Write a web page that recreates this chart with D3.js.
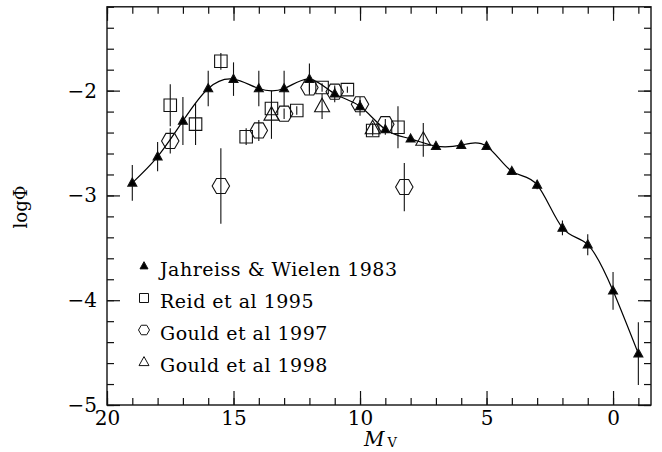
<!DOCTYPE html>
<html>
<head>
<meta charset="utf-8">
<script src="https://cdn.jsdelivr.net/npm/d3@7"></script>
<style>
  html, body { margin: 0; padding: 0; background: #fff; }
  svg { display: block; }
  text { font-family: "DejaVu Serif", "Liberation Serif", serif; fill: #000; }
</style>
</head>
<body>
<svg id="chart" width="662" height="452"></svg>
<script>
// Jahreiss & Wielen 1983 (filled triangles, with smooth curve)
const jwMv  = [19, 18, 17, 16, 15, 14, 13, 12, 11, 10, 9, 8, 7, 6, 5, 4, 3, 2, 1, 0, -1];
const jwLog = [-2.88, -2.63, -2.29, -1.98, -1.89, -1.98, -1.98, -1.89, -2.03, -2.15, -2.37, -2.46, -2.53, -2.52, -2.53, -2.77, -2.90, -3.31, -3.47, -3.91, -4.51];
const jwErr = [0.17, 0.14, 0.23, 0.17, 0.16, 0.17, 0.17, 0.15, 0.08, 0.09, 0.05, 0.03, 0.02, 0.02, 0.02, 0.03, 0.04, 0.07, 0.10, 0.18, 0.30];

// Reid et al 1995 (open squares)
const reidMv  = [17.5, 16.5, 15.5, 14.5, 13.5, 12.5, 11.5, 10.5, 9.5, 8.5];
const reidLog = [-2.14, -2.32, -1.72, -2.44, -2.17, -2.19, -1.97, -1.99, -2.38, -2.35];
const reidErr = [0.20, 0.20, 0.08, 0.08, 0.06, 0.04, 0.04, 0.03, 0.05, 0.20];

// Gould et al 1997 (open hexagons)
const g97Mv  = [17.5, 15.5, 14, 13, 12, 11, 10, 9, 8.25];
const g97Log = [-2.48, -2.91, -2.38, -2.22, -1.97, -2.01, -2.13, -2.32, -2.92];
const g97Err = [0.12, 0.36, 0.10, 0.05, 0.04, 0.04, 0.04, 0.05, 0.23];

// Gould et al 1998 (open triangles)
const g98Mv  = [13.5, 11.5, 9.5, 7.5];
const g98Log = [-2.23, -2.15, -2.36, -2.47];
const g98Err = [0.23, 0.12, 0.05, 0.16];

const xMajorTicks = [20, 15, 10, 5, 0];
const yMajorTicks = [-5, -4, -3, -2];
const legendLabels = ["Jahreiss & Wielen 1983", "Reid et al 1995", "Gould et al 1997", "Gould et al 1998"];

const svg = d3.select("#chart");
const L = 107, R = 651, T = 6.8, B = 405;
const x = d3.scaleLinear().domain([20, -1.5]).range([L, R]);
const y = d3.scaleLinear().domain([-5, -1.2]).range([B, T]);

const xMinor = d3.range(20, -2, -1);
const yMinor = d3.range(-5, -1.19, 0.2).map(v => +v.toFixed(1));

function axis(gen, tx, ty, values, size, labels, pad) {
  const g = svg.append("g").attr("transform", `translate(${tx},${ty})`)
    .call(gen.tickValues(values).tickSize(size).tickPadding(pad).tickFormat(labels ? d3.format("d") : () => ""));
  g.select(".domain").remove();
  g.selectAll(".tick line").attr("stroke", "#111").attr("stroke-width", 1.2);
  g.selectAll(".tick text").style("font-size", "20px").attr("fill", "#000").attr("font-family", null);
  return g;
}
// bottom
axis(d3.axisBottom(x), 0, B, xMinor, -7, false, 0);
axis(d3.axisBottom(x), 0, B, xMajorTicks, -14, true, 6);
// top
axis(d3.axisTop(x), 0, T, xMinor, -7, false, 0);
axis(d3.axisTop(x), 0, T, xMajorTicks, -14, false, 0);
// left
axis(d3.axisLeft(y), L, 0, yMinor, -7, false, 0);
axis(d3.axisLeft(y), L, 0, yMajorTicks, -13, true, 10);
// right
axis(d3.axisRight(y), R, 0, yMinor, -7, false, 0);
axis(d3.axisRight(y), R, 0, yMajorTicks, -13, false, 0);

svg.append("rect").attr("x", L).attr("y", T).attr("width", R - L).attr("height", B - T)
  .attr("fill", "none").attr("stroke", "#111").attr("stroke-width", 1.4);

const plot = svg.append("g");

function errBars(mv, lg, er) {
  plot.append("g").selectAll("line").data(mv).join("line")
    .attr("x1", (d) => x(d)).attr("x2", (d) => x(d))
    .attr("y1", (d, i) => y(lg[i] + er[i])).attr("y2", (d, i) => y(lg[i] - er[i]))
    .attr("stroke", "#111").attr("stroke-width", 1.1);
}
errBars(jwMv, jwLog, jwErr);
errBars(reidMv, reidLog, reidErr);
errBars(g97Mv, g97Log, g97Err);
errBars(g98Mv, g98Log, g98Err);

// smooth curve through JW points
const line = d3.line().x((d) => x(d[0])).y((d) => y(d[1])).curve(d3.curveNatural);
plot.append("path").datum(jwMv.map((m, i) => [m, jwLog[i]]))
  .attr("d", line).attr("fill", "none").attr("stroke", "#000").attr("stroke-width", 1.2);

function triPath(s) { // equilateral-ish, centered
  const h = s * 0.9;
  return `M0,${-h * 0.6}L${s / 2},${h * 0.4}L${-s / 2},${h * 0.4}Z`;
}
function hexPath(r) {
  const pts = d3.range(6).map(k => [r * Math.cos(k * Math.PI / 3), r * Math.sin(k * Math.PI / 3)]);
  return "M" + pts.map(p => p.join(",")).join("L") + "Z";
}
function sqPath(s) { return `M${-s/2},${-s/2}h${s}v${s}h${-s}Z`; }

function markers(mv, lg, d, fill) {
  plot.append("g").selectAll("path").data(mv).join("path")
    .attr("transform", (m, i) => `translate(${x(m)},${y(lg[i])})`)
    .attr("d", d).attr("fill", fill).attr("stroke", "#111").attr("stroke-width", 1.1);
}
markers(reidMv, reidLog, sqPath(12.5), "none");
markers(g97Mv, g97Log, hexPath(8.7), "none");
markers(g98Mv, g98Log, triPath(15), "none");
markers(jwMv, jwLog, triPath(9), "#000");

// legend
const legY = [268, 300, 332, 364];
const legShapes = [[triPath(8), "#000"], [sqPath(9), "none"], [hexPath(5.5), "none"], [triPath(10), "none"]];
const leg = svg.append("g");
legendLabels.forEach((lab, i) => {
  leg.append("path").attr("transform", `translate(144,${legY[i] - 2})`)
    .attr("d", legShapes[i][0]).attr("fill", legShapes[i][1]).attr("stroke", "#111").attr("stroke-width", 1);
  leg.append("text").attr("x", 160).attr("y", legY[i] + 8).style("font-size", "19px")
    .style("letter-spacing", "0.5px").text(lab);
});

// axis titles
svg.append("text").attr("transform", "translate(27,207) rotate(-90)")
  .attr("text-anchor", "middle").style("font-size", "18px").text("logΦ");
const xt = svg.append("text").attr("x", 364).attr("y", 446).style("font-size", "20px");
xt.append("tspan").style("font-style", "italic").text("M");
xt.append("tspan").attr("dx", 3).attr("dy", 1).style("font-size", "13px").text("V");
</script>
</body>
</html>
